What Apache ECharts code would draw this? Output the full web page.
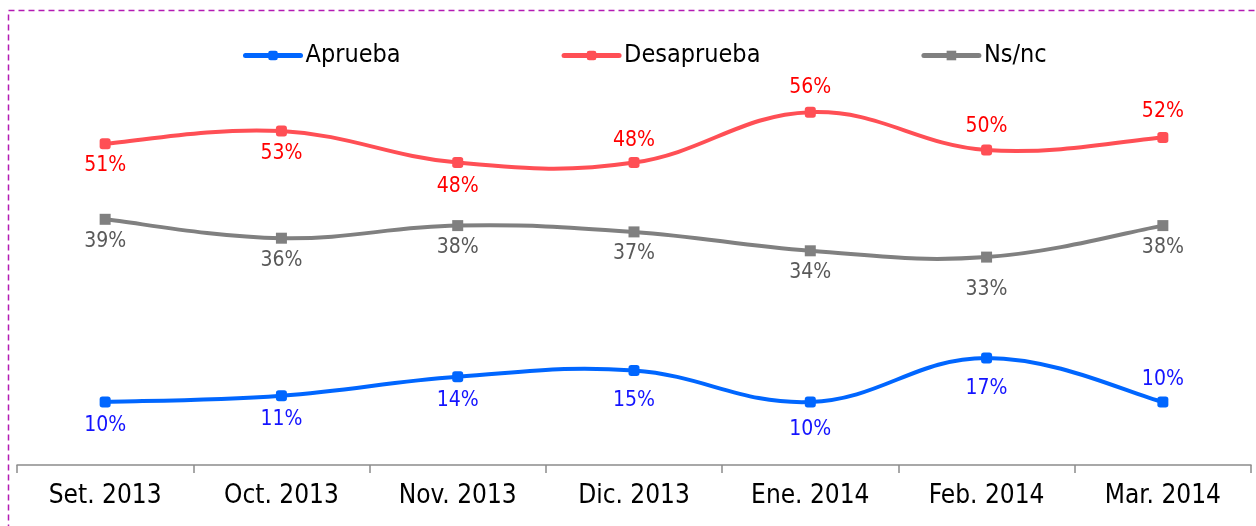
<!DOCTYPE html>
<html><head><meta charset="utf-8">
<script src="https://cdn.jsdelivr.net/npm/echarts@6/dist/echarts.min.js"></script>
<style>html,body{margin:0;padding:0;background:#fff}#c{width:1256px;height:526px}</style>
</head><body><div id="c"></div>
<script>
const categories = ['Set. 2013','Oct. 2013','Nov. 2013','Dic. 2013','Ene. 2014','Feb. 2014','Mar. 2014'];
const aprueba = [10, 11, 14, 15, 10, 17, 10];
const desaprueba = [51, 53, 48, 48, 56, 50, 52];
const nsnc = [39, 36, 38, 37, 34, 33, 38];
// label placement (style only)
const apruebaLabelPos = ['bottom','bottom','bottom','bottom','bottom','bottom','top'];
const desapruebaLabelPos = ['bottom','bottom','bottom','top','top','top','top'];
const nsncLabelPos = ['bottom','bottom','bottom','bottom','bottom','bottom','bottom'];
const apruebaLabelDist = [8, 8, 8, 14, 12, 15, 6];
const desapruebaLabelDist = [6, 6, 8, 6, 9, 7, 10];
const nsncLabelDist = [6, 6, 6, 6, 6, 16, 6];

const FONT = '"DejaVu Sans Condensed", "DejaVu Sans", sans-serif';
const COLORS = { Aprueba: '#0066FF', Desaprueba: '#FF4F55', 'Ns/nc': '#808080' };
const TENSION = 0.2;

function mk(vals, pos, dist) {
  return vals.map((v, i) => ({ value: v, label: { position: pos[i], distance: dist[i] } }));
}
function pointSeries(name, vals, pos, dist, labelColor, symbol) {
  return {
    name, type: 'line', data: mk(vals, pos, dist), z: 3,
    symbol: symbol, symbolSize: 11,
    lineStyle: { width: 4, color: COLORS[name], opacity: 0 },
    itemStyle: { color: COLORS[name] },
    label: { show: true, formatter: '{c}%', color: labelColor, fontSize: 21, fontFamily: FONT },
    emphasis: { disabled: true }
  };
}
function curveSeries(name, vals) {
  return {
    name, type: 'custom', z: 2, silent: true,
    data: vals.map((v, i) => [i, v]),
    encode: { x: 0, y: 1 },
    renderItem: function (params, api) {
      if (params.dataIndex !== 0) return null;
      const P = vals.map((v, i) => api.coord([i, v]));
      const children = [];
      for (let i = 0; i < P.length - 1; i++) {
        const p0 = P[Math.max(i - 1, 0)], p1 = P[i], p2 = P[i + 1], p3 = P[Math.min(i + 2, P.length - 1)];
        children.push({
          type: 'bezierCurve',
          shape: {
            x1: p1[0], y1: p1[1], x2: p2[0], y2: p2[1],
            cpx1: p1[0] + (p2[0] - p0[0]) * TENSION, cpy1: p1[1] + (p2[1] - p0[1]) * TENSION,
            cpx2: p2[0] - (p3[0] - p1[0]) * TENSION, cpy2: p2[1] - (p3[1] - p1[1]) * TENSION
          },
          style: { fill: 'none', stroke: COLORS[name], lineWidth: 4, lineCap: 'round' }
        });
      }
      return { type: 'group', children };
    }
  };
}
const chart = echarts.init(document.getElementById('c'), null, { renderer: 'canvas' });
chart.setOption({
  animation: false,
  graphic: [{
    type: 'rect', shape: { x: 8.5, y: 10.5, width: 1280, height: 560 },
    style: { fill: 'none', stroke: '#B31BB3', lineWidth: 1.5, lineDash: [6, 4] }, silent: true
  }],
  legend: {
    left: 238, top: 38, itemWidth: 55, itemHeight: 12, itemGap: 161,
    textStyle: { fontSize: 25, fontFamily: FONT, color: '#000' },
    data: ['Aprueba', 'Desaprueba', 'Ns/nc'].map(n => ({
      name: n, lineStyle: { width: 5, color: COLORS[n], opacity: 1, cap: 'round' }, itemStyle: { color: COLORS[n] }
    }))
  },
  grid: { left: 17, right: 5, top: 87, bottom: 61, containLabel: false },
  xAxis: {
    type: 'category', data: categories, boundaryGap: true,
    axisLine: { lineStyle: { color: '#8c8c8c', width: 1.5 } },
    axisTick: { show: true, length: 8, lineStyle: { color: '#8c8c8c', width: 1.5 } },
    axisLabel: { color: '#000', fontSize: 26, fontFamily: FONT, margin: 18 }
  },
  yAxis: { type: 'value', min: 0, max: 60, show: false, splitLine: { show: false } },
  series: [
    pointSeries('Aprueba', aprueba, apruebaLabelPos, apruebaLabelDist, '#1414FF', 'roundRect'),
    pointSeries('Desaprueba', desaprueba, desapruebaLabelPos, desapruebaLabelDist, '#FF0000', 'roundRect'),
    pointSeries('Ns/nc', nsnc, nsncLabelPos, nsncLabelDist, '#595959', 'rect'),
    curveSeries('Aprueba', aprueba),
    curveSeries('Desaprueba', desaprueba),
    curveSeries('Ns/nc', nsnc)
  ]
});
</script></body></html>
